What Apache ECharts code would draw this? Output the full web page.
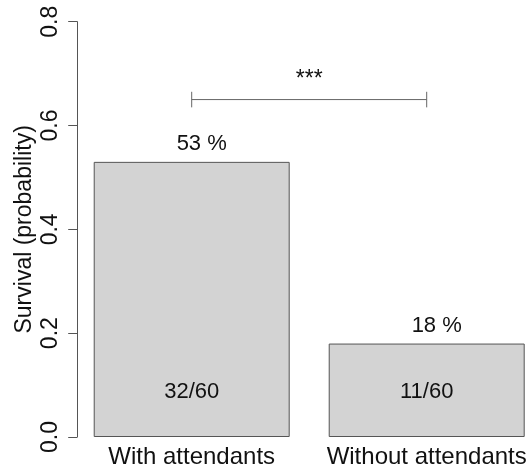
<!DOCTYPE html>
<html>
<head>
<meta charset="utf-8">
<script src="https://cdn.jsdelivr.net/npm/echarts@6/dist/echarts.min.js"></script>
<style>
  html, body { margin: 0; padding: 0; background: #fff; }
  #chart-survival { width: 530px; height: 472px; }
</style>
</head>
<body>
<div id="chart-survival"></div>
<script>
// data
const groups = ["With attendants", "Without attendants"];
const survival = [0.53, 0.18];
const pctLabels = ["53 %", "18 %"];
const countLabels = ["32/60", "11/60"];
const countLabelY = 0.087;
const yTicks = [0, 0.2, 0.4, 0.6, 0.8];
const bracketY = 0.65;
const bracketTick = 0.015;
const signif = "***";

const font = "Liberation Sans, Arial, Helvetica, sans-serif";
const chart = echarts.init(document.getElementById("chart-survival"));

chart.setOption({
  animation: false,
  grid: { left: 74.2, right: -14.2, top: 21.7, bottom: 35, outerBoundsMode: "none", containLabel: false },
  xAxis: {
    type: "category",
    data: groups,
    axisLine: { show: false },
    axisTick: { show: false },
    axisLabel: { color: "#111", fontFamily: font, fontSize: 24, margin: 8, interval: 0 },
  },
  yAxis: {
    type: "value",
    min: yTicks[0],
    max: yTicks[yTicks.length - 1],
    interval: 0.2,
    offset: -3,
    name: "Survival (probability)",
    nameLocation: "middle",
    nameGap: 41,
    nameMoveOverlap: false,
    nameTextStyle: { color: "#111", fontFamily: font, fontSize: 23 },
    axisLine: { show: true, lineStyle: { color: "#555", width: 1 } },
    axisTick: { show: true, length: 9, lineStyle: { color: "#555" } },
    axisLabel: {
      rotate: 90,
      margin: 15,
      color: "#111",
      fontFamily: font,
      fontSize: 23,
      formatter: (v) => v.toFixed(1),
    },
    splitLine: { show: false },
  },
  series: [
    {
      type: "bar",
      data: survival,
      barWidth: "83.4%",
      itemStyle: { color: "#d3d3d3", borderColor: "#555", borderWidth: 1 },
      label: {
        show: true,
        position: "top",
        distance: 7,
        offset: [10, 0],
        color: "#111",
        fontFamily: font,
        fontSize: 22,
        formatter: (p) => pctLabels[p.dataIndex],
      },
    },
    {
      type: "scatter",
      symbolSize: 0,
      itemStyle: { opacity: 1 },
      data: groups.map((g) => [g, countLabelY]),
      label: {
        show: true,
        position: "inside",
        color: "#111",
        fontFamily: font,
        fontSize: 22,
        formatter: (p) => countLabels[p.dataIndex],
      },
      z: 5,
    },
    {
      type: "custom",
      data: [[0, 1, bracketY]],
      renderItem: function (params, api) {
        const a = api.coord([api.value(0), api.value(2)]);
        const b = api.coord([api.value(1), api.value(2)]);
        const up = api.coord([api.value(0), api.value(2) + bracketTick])[1];
        const dn = api.coord([api.value(0), api.value(2) - bracketTick])[1];
        const st = { stroke: "#666", lineWidth: 1 };
        return {
          type: "group",
          children: [
            { type: "line", shape: { x1: a[0], y1: a[1], x2: b[0], y2: b[1] }, style: st },
            { type: "line", shape: { x1: a[0], y1: up, x2: a[0], y2: dn }, style: st },
            { type: "line", shape: { x1: b[0], y1: up, x2: b[0], y2: dn }, style: st },
            {
              type: "text",
              x: (a[0] + b[0]) / 2,
              y: a[1] - 8,
              style: {
                text: signif,
                fill: "#111",
                font: "23px " + font,
                align: "center",
                verticalAlign: "bottom",
              },
            },
          ],
        };
      },
      z: 5,
    },
  ],
});
</script>
</body>
</html>
